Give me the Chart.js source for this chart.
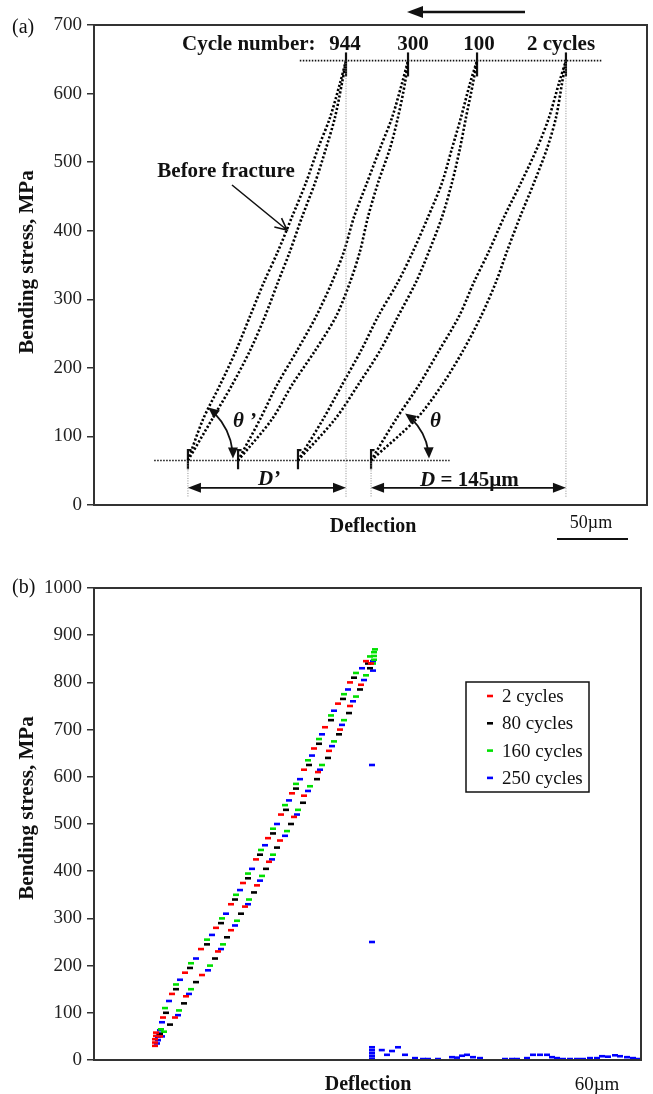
<!DOCTYPE html>
<html>
<head>
<meta charset="utf-8">
<script src="https://cdn.jsdelivr.net/npm/chart.js@4.4.1/dist/chart.umd.min.js"></script>
<style>
  body { margin: 0; background: #fff; }
  #wrap { position: relative; width: 653px; height: 1094px; }
  canvas { position: absolute; left: 0; }
  #chartA { top: 0; }
  #chartB { top: 545px; }
</style>
</head>
<body>
<div id="wrap">
  <canvas id="chartA" width="653" height="545"></canvas>
  <canvas id="chartB" width="653" height="549"></canvas>
</div>
<script>
// ---------- (a) hysteresis loops, deflection in um ----------
// stress levels (MPa) where each branch was read
const stressA = [65, 125, 175, 225, 275, 325, 370, 420, 470, 520, 565, 615, 648];

const load944   = [67.1, 77.9, 90.0, 101.4, 111.4, 121.4, 131.4, 141.4, 151.4, 160.0, 168.6, 175.7, 180.0];
const unload944 = [67.1, 84.3, 98.6, 111.4, 122.1, 131.4, 140.0, 148.6, 157.9, 165.7, 172.1, 177.1, 180.0];
const load300   = [102.9, 118.6, 130.7, 145.0, 158.6, 170.0, 178.6, 185.7, 195.0, 204.3, 212.9, 220.0, 224.3];
const unload300 = [102.9, 127.1, 141.4, 157.9, 172.9, 182.9, 190.0, 195.7, 202.9, 211.4, 217.1, 222.1, 224.3];
const load100   = [145.7, 163.6, 177.1, 190.7, 202.9, 217.1, 227.9, 238.6, 248.6, 255.7, 262.1, 268.6, 273.6];
const unload100 = [145.7, 172.1, 188.6, 204.3, 217.1, 230.0, 239.3, 248.6, 255.7, 261.4, 265.7, 270.7, 273.6];
const load2     = [197.9, 215.7, 232.1, 246.4, 260.7, 271.4, 282.1, 292.9, 305.0, 316.4, 325.0, 332.1, 337.1];
const unload2   = [197.9, 230.0, 248.6, 263.6, 276.4, 287.1, 295.0, 304.3, 314.3, 323.6, 330.0, 334.3, 337.1];

const cycleLabels = ['944', '300', '100', '2 cycles'];
// stress span of the clustered points at the turning ends
const baseStub = [52, 80];
const peakStub = [625, 660];

// ---------- (b) four cycle counts, [deflection, stress] ----------
const cyc2 = [[30.5,30],[30.5,37],[30.5,44],[31,51],[31,58],
  [34.5,90],[39,140],[45.5,185],[53.5,235],[61,280],[68.5,330],[74.5,375],[81,425],[87,470],[93.5,520],
  [99,565],[105,615],[110,660],[115.5,705],[122,755],[128,800],[136,845],
  [138.5,840],[133.5,795],[128,750],[123,700],[117.5,655],[112,610],[105,560],[100,515],[93,465],
  [87.5,420],[81.5,370],[75.5,325],[68.5,275],[62,230],[54,180],[46,135],[40.5,90],[33,50]];
const cyc80 = [[33,55],[36,100],[41,150],[48,195],[56.5,245],[63.5,290],[70.5,340],[77,385],[83,435],
  [89.5,480],[96,530],[101,575],[107.5,625],[112.5,670],[118.5,720],[124.5,765],[130,810],[137,840],
  [138,830],[133,785],[127.5,735],[122.5,690],[117,640],[111.5,595],[104.5,545],[98.5,500],[91.5,450],
  [86,405],[80,355],[73.5,310],[66.5,260],[60.5,215],[51,165],[45,120],[38,75]];
const cyc160 = [[33.5,65],[35.5,110],[41,160],[48.5,205],[56.5,255],[64,300],[71,350],[77,395],[83.5,445],
  [89.5,490],[95.5,540],[101,585],[107,635],[112.5,680],[118.5,730],[125,775],[131,820],[138,855],
  [140,848],[140,856],[140,864],[140.5,870],
  [139.5,840],[136,815],[131,770],[125,720],[120,675],[114,625],[108,580],[102,530],[96.5,485],
  [89.5,435],[84,390],[77.5,340],[71.5,295],[64.5,245],[58,200],[48.5,150],[42.5,105],[35,60]];
const cyc250 = [[31.5,35],[32,42],[32,49],[32.5,56],[33,63],
  [34,80],[37.5,125],[43,170],[51,215],[59,265],[66,310],[73,360],[79,405],[85.5,455],[91.5,500],
  [97.5,550],[103,595],[109,645],[114,690],[120,740],[127,785],[134,830],
  [139.5,845],[139.5,825],[135,805],[129.5,760],[124,710],[119,665],[113,615],[107,570],[101.5,520],
  [95.5,475],[89,425],[83,380],[77,330],[70.5,285],[63.5,235],[57,190],[47.5,140],[42,95],[34,50],
  // after fracture
  [139,625],[139,250],[139,3],[139,9],[139,15],[139,21],[139,27],
  [143.9,21],[146.5,11],[149,19],[152,27],[155.5,11],[160.5,4],[164.5,2],[167,2],[172,2],
  [179,6],[181.5,5],[184,9],[186.5,11],[189.5,6],[193,4],[205.5,2],[209,2],[211.5,2],
  [216.5,4],[219.5,11],[223,11],[226.5,11],[229,6],[231.5,4],[234.5,2],[238,2],[241.5,2],
  [244.5,2],[248,4],[251.5,4],[254,8],[257,7],[260.5,10],[263,8],[266.5,6],[269.5,4],[272,2]];

const seriesB = [cyc2, cyc80, cyc160, cyc250];
const seriesNames = ['2 cycles', '80 cycles', '160 cycles', '250 cycles'];
const seriesColors = ['#ff0000', '#000000', '#00e000', '#0000ff'];

const serif = '"Liberation Serif", "Times New Roman", serif';
const ink = '#111';

function arrowHead(ctx, x, y, ang, len, half) {
  const c = Math.cos(ang), s = Math.sin(ang);
  ctx.beginPath();
  ctx.moveTo(x, y);
  ctx.lineTo(x - len * c + half * s, y - len * s - half * c);
  ctx.lineTo(x - len * c - half * s, y - len * s + half * c);
  ctx.closePath();
  ctx.fill();
}

function dimArrow(ctx, x1, x2, y) {
  ctx.beginPath(); ctx.moveTo(x1 + 8, y); ctx.lineTo(x2 - 8, y); ctx.stroke();
  arrowHead(ctx, x1, y, Math.PI, 13, 5);
  arrowHead(ctx, x2, y, 0, 13, 5);
}

function angleArc(ctx, cx, cy, r, a0, a1) {
  ctx.beginPath(); ctx.arc(cx, cy, r, a0 + 0.14, a1 - 0.12); ctx.stroke();
  arrowHead(ctx, cx + r * Math.cos(a0), cy + r * Math.sin(a0), a0 - Math.PI / 2, 11, 5);
  arrowHead(ctx, cx + r * Math.cos(a1), cy + r * Math.sin(a1), a1 + Math.PI / 2, 11, 5);
}

function yTitle(ctx, text, x, yc) {
  ctx.save();
  ctx.translate(x, yc);
  ctx.rotate(-Math.PI / 2);
  ctx.font = 'bold 21px ' + serif;
  ctx.textAlign = 'center';
  ctx.textBaseline = 'alphabetic';
  ctx.fillText(text, 0, 0);
  ctx.restore();
}

const loopsA = [[load944, unload944], [load300, unload300], [load100, unload100], [load2, unload2]];
const toPts = xs => xs.map((v, i) => ({x: v, y: stressA[i]}));

const datasetsA = [];
loopsA.forEach(([up, down]) => {
  [up, down].forEach(xs => datasetsA.push({
    data: toPts(xs), showLine: true, borderColor: '#000', borderWidth: 2.6,
    borderDash: [2.2, 2], pointRadius: 0, tension: 0.3
  }));
  const x0 = up[0], x1 = up[up.length - 1];
  datasetsA.push({
    data: [{x: x0, y: baseStub[0]}, {x: x0, y: baseStub[1]}, {x: x0 + 2.5, y: baseStub[1]}],
    showLine: true, borderColor: ink, borderWidth: 2.2, pointRadius: 0
  });
  datasetsA.push({
    data: [{x: x1, y: peakStub[0]}, {x: x1, y: peakStub[1]}],
    showLine: true, borderColor: ink, borderWidth: 2.2, pointRadius: 0
  });
});

const annotA = {
  id: 'annotA',
  afterDraw(chart) {
    const {ctx, chartArea: ca, scales: {x, y}} = chart;
    const X = v => x.getPixelForValue(v), Y = v => y.getPixelForValue(v);
    const sLow = stressA[0], sHigh = stressA[stressA.length - 1];
    const firstLoop = loopsA[0][0], lastLoop = loopsA[3][0];
    const xa1 = X(firstLoop[0]), xa2 = X(firstLoop[firstLoop.length - 1]);
    const xb1 = X(lastLoop[0]), xb2 = X(lastLoop[lastLoop.length - 1]);

    ctx.save();
    ctx.strokeStyle = '#333'; ctx.lineWidth = 2;
    ctx.strokeRect(ca.left, ca.top, ca.right - ca.left, ca.bottom - ca.top);

    // grey dotted drop lines
    ctx.strokeStyle = '#8a8a8a'; ctx.lineWidth = 1; ctx.setLineDash([1, 1.5]);
    const foot = Y(12);
    [[xa1, sLow], [xa2, sHigh], [xb1, sLow], [xb2, sHigh]].forEach(([px, s]) => {
      ctx.beginPath(); ctx.moveTo(px, Y(s)); ctx.lineTo(px, foot); ctx.stroke();
    });
    // black dotted levels
    ctx.strokeStyle = ink; ctx.lineWidth = 1.6; ctx.setLineDash([1.5, 1.5]);
    ctx.beginPath(); ctx.moveTo(X(147), Y(sHigh)); ctx.lineTo(X(363), Y(sHigh)); ctx.stroke();
    ctx.beginPath(); ctx.moveTo(X(43), Y(sLow)); ctx.lineTo(X(254), Y(sLow)); ctx.stroke();
    ctx.setLineDash([]);

    // D' and D
    ctx.strokeStyle = ink; ctx.fillStyle = ink; ctx.lineWidth = 1.8;
    dimArrow(ctx, xa1, xa2, Y(25));
    dimArrow(ctx, xb1, xb2, Y(25));

    // angle arcs
    ctx.lineWidth = 1.8;
    angleArc(ctx, xb1, Y(sLow), 58, -54 * Math.PI / 180, -2 * Math.PI / 180);
    angleArc(ctx, xa1 - 19.5, Y(sLow) - 2, 64.5, -52 * Math.PI / 180, 0);

    // "before fracture" pointer
    ctx.lineWidth = 1.6;
    const ax0 = 232, ay0 = 185, ax1 = 287, ay1 = 230;
    const ang = Math.atan2(ay1 - ay0, ax1 - ax0);
    ctx.beginPath(); ctx.moveTo(ax0, ay0); ctx.lineTo(ax1, ay1);
    ctx.moveTo(ax1 - 13 * Math.cos(ang - 0.45), ay1 - 13 * Math.sin(ang - 0.45));
    ctx.lineTo(ax1, ay1);
    ctx.lineTo(ax1 - 13 * Math.cos(ang + 0.45), ay1 - 13 * Math.sin(ang + 0.45));
    ctx.stroke();

    // direction arrow at top
    ctx.lineWidth = 2.5;
    ctx.beginPath(); ctx.moveTo(525, 12); ctx.lineTo(418, 12); ctx.stroke();
    arrowHead(ctx, 407, 12, Math.PI, 16, 6);

    // texts
    ctx.textBaseline = 'alphabetic';
    ctx.font = 'bold 21px ' + serif;
    ctx.textAlign = 'left';
    ctx.fillText('Cycle number:', 182, 50);
    ctx.textAlign = 'center';
    [345, 413, 479, 561].forEach((cx, i) => ctx.fillText(cycleLabels[i], cx, 50));
    ctx.fillText('Before fracture', 226, 177);

    ctx.textAlign = 'left';
    ctx.font = 'italic bold 21px ' + serif;
    ctx.fillText('\u03b8', 430, 427);
    ctx.fillText('\u03b8 \u2019', 233, 427);
    ctx.fillText('D\u2019', 258, 485);
    ctx.fillText('D', 420, 486);
    const dW = ctx.measureText('D').width;
    ctx.font = 'bold 21px ' + serif;
    ctx.fillText(' = 145\u00b5m', 420 + dW, 486);

    ctx.textAlign = 'center';
    ctx.font = 'bold 20px ' + serif;
    ctx.fillText('Deflection', 373, 532);
    ctx.font = '18px ' + serif;
    ctx.fillText('50\u00b5m', 591, 528);
    ctx.lineWidth = 2;
    ctx.beginPath(); ctx.moveTo(557, 539); ctx.lineTo(628, 539); ctx.stroke();

    ctx.textAlign = 'left';
    ctx.font = '20px ' + serif;
    ctx.fillText('(a)', 12, 33);
    yTitle(ctx, 'Bending stress, MPa', 33, 262);
    ctx.restore();
  }
};

const annotB = {
  id: 'annotB',
  afterDraw(chart) {
    const {ctx, chartArea: ca} = chart;
    ctx.save();
    ctx.strokeStyle = '#333'; ctx.lineWidth = 2;
    ctx.strokeRect(ca.left, ca.top, ca.right - ca.left, ca.bottom - ca.top);

    // legend inside the plot
    ctx.strokeStyle = ink; ctx.lineWidth = 1.5;
    ctx.strokeRect(466, 137, 123, 110);
    ctx.font = '19px ' + serif;
    ctx.textAlign = 'left'; ctx.textBaseline = 'middle';
    chart.data.datasets.forEach((ds, i) => {
      const ry = 151 + i * 27.3;
      ctx.strokeStyle = ds.pointBorderColor; ctx.lineWidth = 2.6;
      ctx.beginPath(); ctx.moveTo(487, ry); ctx.lineTo(493, ry); ctx.stroke();
      ctx.fillStyle = ink;
      ctx.fillText(ds.label, 502, ry + 1);
    });

    ctx.fillStyle = ink;
    ctx.textBaseline = 'alphabetic';
    ctx.textAlign = 'center';
    ctx.font = 'bold 20px ' + serif;
    ctx.fillText('Deflection', 368, 545);
    ctx.font = '19px ' + serif;
    ctx.fillText('60\u00b5m', 597, 545);
    ctx.textAlign = 'left';
    ctx.font = '20px ' + serif;
    ctx.fillText('(b)', 12, 48);
    yTitle(ctx, 'Bending stress, MPa', 33, 263);
    ctx.restore();
  }
};

function yAxis(max) {
  return {
    min: 0, max: max,
    ticks: {stepSize: 100, padding: 5, color: '#222', font: {family: serif, size: 19},
            callback: v => String(v)},
    grid: {display: true, drawOnChartArea: false, drawTicks: true, tickLength: 7, color: '#333', lineWidth: 1.5},
    border: {display: true, color: '#333', width: 2},
    afterFit(scale) { scale.width = 94; }
  };
}
function xAxis(max) {
  return {
    type: 'linear', min: 0, max: max,
    ticks: {display: false},
    grid: {display: false},
    border: {display: true, color: '#333', width: 2},
    afterFit(scale) { scale.height = 0; }
  };
}
const baseOptions = {
  responsive: false,
  animation: false,
  plugins: {legend: {display: false}, tooltip: {enabled: false}}
};

new Chart(document.getElementById('chartA'), {
  type: 'scatter',
  data: {datasets: datasetsA},
  options: Object.assign({}, baseOptions, {
    layout: {padding: {left: 0, top: 25, right: 6, bottom: 40}},
    scales: {x: xAxis(395), y: yAxis(700)}
  }),
  plugins: [annotA]
});

new Chart(document.getElementById('chartB'), {
  type: 'scatter',
  data: {
    datasets: seriesB.map((pts, i) => ({
      label: seriesNames[i],
      data: pts.map(p => ({x: p[0], y: p[1]})),
      pointStyle: 'line',
      pointRadius: 3,
      pointBorderWidth: 2.6,
      pointBorderColor: seriesColors[i],
      pointBackgroundColor: seriesColors[i],
      clip: false
    }))
  },
  options: Object.assign({}, baseOptions, {
    layout: {padding: {left: 0, top: 43, right: 12, bottom: 34}},
    scales: {x: xAxis(273.5), y: yAxis(1000)}
  }),
  plugins: [annotB]
});
</script>
</body>
</html>
